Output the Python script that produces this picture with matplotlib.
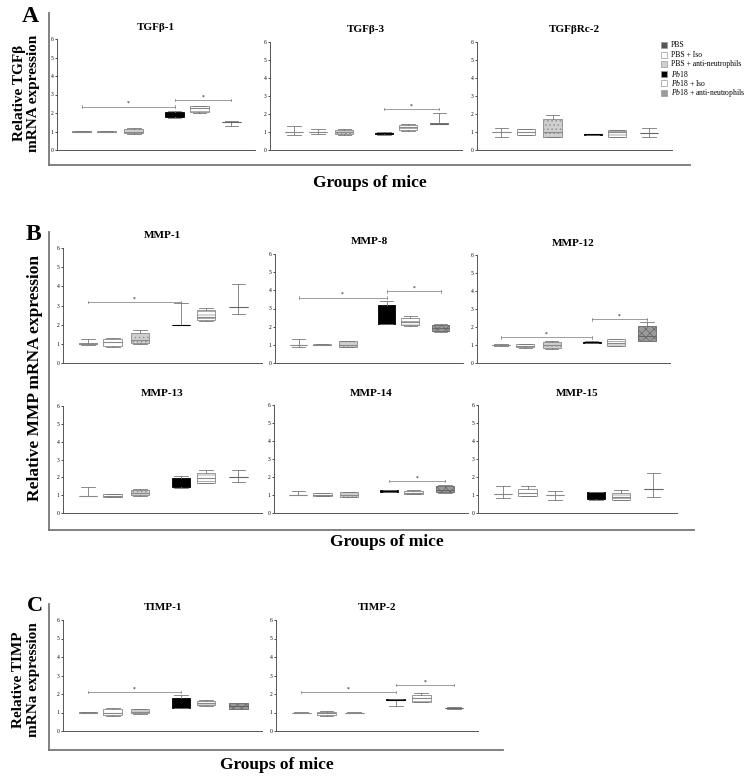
import matplotlib
matplotlib.use('Agg')
import matplotlib.pyplot as plt
from matplotlib.patches import Rectangle
from matplotlib.lines import Line2D

plt.rcParams['font.family'] = ['Liberation Serif', 'DejaVu Serif']
plt.rcParams['mathtext.fontset'] = 'custom'
plt.rcParams['mathtext.rm'] = 'Liberation Serif'
plt.rcParams['mathtext.it'] = 'Liberation Serif:italic'
plt.rcParams['hatch.linewidth'] = 0.5

groups = ['PBS', 'PBS + Iso', 'PBS + anti-neutrophils',
          r'$\it{Pb18}$', r'$\it{Pb18}$ + Iso', r'$\it{Pb18}$ + anti-neutrophils']

# each group: whisker low, q1, median, q3, whisker high
tgfb1 = [[0.98, 0.99, 1.0, 1.01, 1.02], [0.95, 0.97, 1.0, 1.03, 1.05],
         [0.87, 0.92, 1.0, 1.15, 1.18], [1.72, 1.78, 1.95, 2.08, 2.12],
         [2.02, 2.05, 2.25, 2.36, 2.40], [1.30, 1.50, 1.50, 1.52, 1.58]]
tgfb3 = [[0.85, 1.0, 1.0, 1.0, 1.32], [0.88, 1.0, 1.0, 1.0, 1.18],
         [0.85, 0.90, 1.0, 1.12, 1.15], [0.86, 0.88, 0.93, 0.97, 0.98],
         [1.03, 1.10, 1.30, 1.40, 1.42], [1.42, 1.45, 1.47, 1.48, 2.05]]
tgfbrc2 = [[0.70, 1.0, 1.0, 1.0, 1.22], [0.82, 0.85, 0.98, 1.14, 1.15],
           [0.70, 0.74, 1.0, 1.75, 1.97], [0.85, 0.86, 0.87, 0.88, 0.89],
           [0.72, 0.74, 0.98, 1.10, 1.12], [0.75, 0.92, 0.92, 0.92, 1.20]]
mmp1 = [[0.92, 0.97, 1.0, 1.02, 1.25], [0.85, 0.87, 1.07, 1.27, 1.28],
        [1.0, 1.04, 1.20, 1.56, 1.72], [2.0, 2.0, 2.0, 2.0, 3.13],
        [2.20, 2.22, 2.40, 2.78, 2.85], [2.57, 2.92, 2.92, 2.92, 4.14]]
mmp8 = [[0.90, 1.0, 1.0, 1.0, 1.30], [0.98, 1.0, 1.0, 1.02, 1.03],
        [0.86, 0.88, 1.0, 1.19, 1.20], [2.12, 2.15, 2.20, 3.20, 3.39],
        [2.05, 2.07, 2.25, 2.48, 2.60], [1.70, 1.74, 1.90, 2.10, 2.12]]
mmp12 = [[0.92, 1.0, 1.0, 1.0, 1.08], [0.85, 0.87, 0.95, 1.05, 1.06],
         [0.80, 0.82, 1.0, 1.19, 1.20], [1.10, 1.12, 1.15, 1.18, 1.20],
         [0.92, 0.93, 1.10, 1.32, 1.33], [1.20, 1.22, 1.50, 2.05, 2.30]]
mmp13 = [[0.97, 0.97, 0.97, 0.97, 1.46], [0.88, 0.90, 0.95, 1.07, 1.08],
         [0.98, 0.99, 1.10, 1.27, 1.35], [1.42, 1.43, 1.60, 1.96, 2.08],
         [1.68, 1.70, 1.95, 2.26, 2.40], [1.74, 2.02, 2.02, 2.02, 2.43]]
mmp14 = [[1.0, 1.0, 1.0, 1.0, 1.20], [0.92, 0.93, 1.0, 1.09, 1.10],
         [0.87, 0.88, 1.0, 1.16, 1.17], [1.14, 1.15, 1.22, 1.29, 1.30],
         [1.03, 1.05, 1.12, 1.24, 1.26], [1.13, 1.14, 1.30, 1.51, 1.55]]
mmp15 = [[0.81, 1.04, 1.04, 1.04, 1.48], [0.92, 0.93, 1.10, 1.35, 1.52],
         [0.70, 1.02, 1.02, 1.02, 1.20], [0.70, 0.78, 0.95, 1.17, 1.18],
         [0.74, 0.75, 0.90, 1.11, 1.28], [0.90, 1.31, 1.31, 1.31, 2.20]]
timp1 = [[0.98, 1.0, 1.0, 1.02, 1.04], [0.80, 0.86, 1.0, 1.20, 1.22],
         [0.94, 0.95, 1.05, 1.17, 1.18], [1.22, 1.26, 1.40, 1.80, 1.92],
         [1.37, 1.39, 1.50, 1.64, 1.65], [1.18, 1.19, 1.35, 1.51, 1.52]]
timp2 = [[0.98, 1.0, 1.0, 1.0, 1.02], [0.83, 0.85, 0.98, 1.05, 1.08],
         [0.98, 1.0, 1.0, 1.0, 1.02], [1.37, 1.70, 1.70, 1.72, 1.74],
         [1.55, 1.58, 1.80, 1.96, 2.05], [1.20, 1.22, 1.22, 1.24, 1.30]]

# significance bars: (from group, to group, height)
sig_tgfb1 = [(0, 3, 2.34), (3, 5, 2.70)]
sig_tgfb3 = [(3, 5, 2.27)]
sig_mmp1 = [(0, 3, 3.18)]
sig_mmp8 = [(0, 3, 3.60), (3, 5, 3.94)]
sig_mmp12 = [(0, 3, 1.43), (3, 5, 2.42)]
sig_mmp14 = [(3, 5, 1.79)]
sig_timp1 = [(0, 3, 2.10)]
sig_timp2 = [(0, 3, 2.10), (3, 5, 2.48)]

W, H = 750, 777
positions = [1, 2, 3.1, 4.75, 5.75, 7.05]
face = ['#555555', 'white', '#cfcfcf', 'black', 'white', '#9a9a9a']
edge = ['#888888', '#888888', '#8a8a8a', 'black', '#888888', '#666666']
hatch = [None, None, '....', None, '-----', 'xxxx']


def fx(x):
    return x / W


def fy(y):
    return 1 - y / H


def draw_panel(rect, title, stats, sig=()):
    l, t, r, b = rect
    ax = fig.add_axes([fx(l), fy(b), fx(r) - fx(l), fy(t) - fy(b)])
    for i, s in enumerate(stats):
        st = dict(whislo=s[0], q1=s[1], med=s[2], q3=s[3], whishi=s[4], fliers=[])
        bp = ax.bxp([st], positions=[positions[i]], widths=0.75, capwidths=0.55,
                    patch_artist=True, showfliers=False,
                    boxprops=dict(facecolor=face[i], edgecolor=edge[i], linewidth=0.6),
                    whiskerprops=dict(color='#777777', linewidth=0.6),
                    capprops=dict(color='#777777', linewidth=0.6),
                    medianprops=dict(color=edge[i], linewidth=0.8))
        if hatch[i]:
            bp['boxes'][0].set_hatch(hatch[i])
    for a, c, y in sig:
        xa, xc = positions[a], positions[c]
        ax.plot([xa, xc], [y, y], color='#777777', lw=0.5)
        ax.plot([xa, xa], [y - 0.07, y + 0.07], color='#777777', lw=0.5)
        ax.plot([xc, xc], [y - 0.07, y + 0.07], color='#777777', lw=0.5)
        ax.text((xa + xc) / 2, y + 0.03, '*', ha='center', va='bottom', fontsize=4)
    ax.set_xlim(0, 8)
    ax.set_ylim(0, 6)
    ax.set_yticks(range(7))
    ax.set_xticks([])
    ax.tick_params(axis='y', length=1.5, width=0.5, labelsize=4, pad=1)
    for sp in ['top', 'right']:
        ax.spines[sp].set_visible(False)
    for sp in ['left', 'bottom']:
        ax.spines[sp].set_linewidth(0.7)
        ax.spines[sp].set_color('#555555')
    fig.text(fx((l + r) / 2), fy(t - 12), title, ha='center', va='center',
             fontsize=8, fontweight='bold')
    return ax


def frame(x0, ytop, ybot, xr):
    fig.add_artist(Line2D([fx(x0), fx(x0)], [fy(ytop), fy(ybot)], color='#777777', lw=1.3))
    fig.add_artist(Line2D([fx(x0), fx(xr)], [fy(ybot), fy(ybot)], color='#777777', lw=1.3))


fig = plt.figure(figsize=(7.5, 7.77), dpi=100)

# panel A
draw_panel((57, 39, 255, 150), 'TGFβ-1', tgfb1, sig_tgfb1)
draw_panel((270, 42, 462, 150), 'TGFβ-3', tgfb3, sig_tgfb3)
draw_panel((477, 42, 672, 150), 'TGFβRc-2', tgfbrc2)
frame(49, 13, 165, 690)
fig.text(fx(30), fy(16), 'A', fontsize=17, fontweight='bold', ha='center', va='center')
fig.text(fx(27), fy(93), 'Relative TGFβ\nmRNA expression', rotation=90, fontsize=11,
         fontweight='bold', ha='center', va='center', linespacing=1.1)
fig.text(fx(370), fy(183), 'Groups of mice', fontsize=12.5, fontweight='bold',
         ha='center', va='center')

# legend drawn by hand so that rows keep an even spacing
for i, name in enumerate(groups):
    yc = 45 + 9.6 * i
    fig.add_artist(Rectangle((fx(661), fy(yc + 3)), fx(6), 6 / H, transform=fig.transFigure,
                             facecolor=face[i], edgecolor='#999999', linewidth=0.5))
    fig.text(fx(671), fy(yc), name, fontsize=5.5, ha='left', va='center')

# panel B
draw_panel((63, 248, 262, 363), 'MMP-1', mmp1, sig_mmp1)
draw_panel((275, 254, 463, 363), 'MMP-8', mmp8, sig_mmp8)
draw_panel((477, 255, 670, 363), 'MMP-12', mmp12, sig_mmp12)
draw_panel((63, 406, 262, 513), 'MMP-13', mmp13)
draw_panel((274, 405, 468, 513), 'MMP-14', mmp14, sig_mmp14)
draw_panel((478, 405, 677, 513), 'MMP-15', mmp15)
frame(49, 232, 530, 694)
fig.text(fx(33), fy(234), 'B', fontsize=17, fontweight='bold', ha='center', va='center')
fig.text(fx(35), fy(378), 'Relative MMP mRNA expression', rotation=90, fontsize=12.5,
         fontweight='bold', ha='center', va='center')
fig.text(fx(387), fy(542), 'Groups of mice', fontsize=12.5, fontweight='bold',
         ha='center', va='center')

# panel C
draw_panel((63, 620, 262, 731), 'TIMP-1', timp1, sig_timp1)
draw_panel((276, 620, 478, 731), 'TIMP-2', timp2, sig_timp2)
frame(49, 604, 750, 503)
fig.text(fx(35), fy(606), 'C', fontsize=16, fontweight='bold', ha='center', va='center')
fig.text(fx(26), fy(680), 'Relative TIMP\nmRNa expression', rotation=90, fontsize=11,
         fontweight='bold', ha='center', va='center', linespacing=1.1)
fig.text(fx(277), fy(765), 'Groups of mice', fontsize=12.5, fontweight='bold',
         ha='center', va='center')

fig.savefig('out.png', dpi=100)
